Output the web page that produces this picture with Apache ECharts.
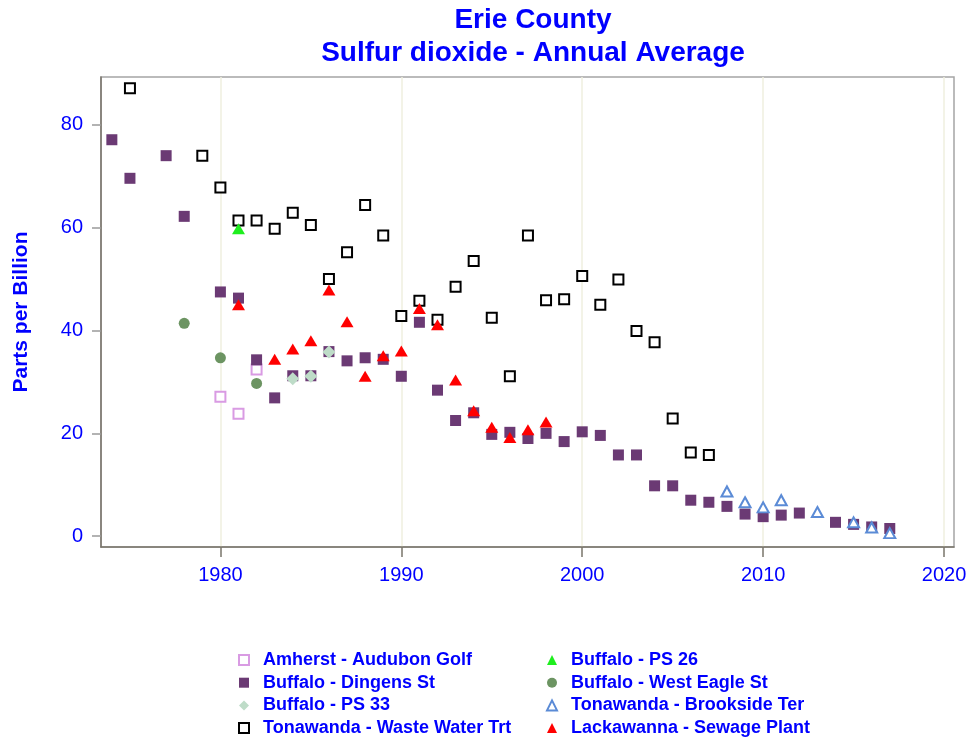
<!DOCTYPE html>
<html>
<head>
<meta charset="utf-8">
<script src="https://cdn.jsdelivr.net/npm/echarts@6/dist/echarts.min.js"></script>
<style>
    html,body{margin:0;padding:0;background:#fff;}
    #main{width:973px;height:744px;}
</style>
</head>
<body>
<div id="main"></div>
<script>
//数据
var amherstYears = [1980, 1981, 1982];
var amherstValues = [27.1, 23.8, 32.4];

var dingensYears = [1974, 1975, 1977, 1978, 1980, 1981, 1982, 1983, 1984, 1985, 1986, 1987, 1988, 1989,
    1990, 1991, 1992, 1993, 1994, 1995, 1996, 1997, 1998, 1999, 2000, 2001, 2002, 2003, 2004, 2005,
    2006, 2007, 2008, 2009, 2010, 2011, 2012, 2014, 2015, 2016, 2017];
var dingensValues = [77.1, 69.6, 74.0, 62.2, 47.5, 46.3, 34.3, 26.9, 31.2, 31.2, 35.9, 34.1, 34.7, 34.4,
    31.1, 41.6, 28.4, 22.5, 24.0, 19.8, 20.2, 19.0, 20.0, 18.4, 20.3, 19.6, 15.8, 15.8, 9.8, 9.8,
    7.0, 6.6, 5.8, 4.3, 3.8, 4.1, 4.5, 2.7, 2.3, 1.8, 1.5];

var ps33Years = [1984, 1985, 1986];
var ps33Values = [30.6, 31.1, 35.8];

var wasteYears = [1975, 1979, 1980, 1981, 1982, 1983, 1984, 1985, 1986, 1987, 1988, 1989,
    1990, 1991, 1992, 1993, 1994, 1995, 1996, 1997, 1998, 1999, 2000, 2001, 2002, 2003, 2004, 2005, 2006, 2007];
var wasteValues = [87.1, 74.0, 67.8, 61.4, 61.4, 59.8, 62.9, 60.5, 50.0, 55.2, 64.4, 58.5,
    42.8, 45.8, 42.1, 48.5, 53.5, 42.5, 31.1, 58.5, 45.9, 46.1, 50.6, 45.0, 49.9, 39.9, 37.7, 22.9, 16.3, 15.8];

var ps26Years = [1981];
var ps26Values = [59.8];

var westEagleYears = [1978, 1980, 1982];
var westEagleValues = [41.4, 34.7, 29.7];

var brooksideYears = [2008, 2009, 2010, 2011, 2013, 2015, 2016, 2017];
var brooksideValues = [8.7, 6.6, 5.6, 7.0, 4.7, 2.7, 1.7, 0.6];

var lackYears = [1981, 1983, 1984, 1985, 1986, 1987, 1988, 1989, 1990, 1991, 1992, 1993, 1994, 1995, 1996, 1997, 1998];
var lackValues = [45.0, 34.4, 36.4, 38.0, 47.9, 41.7, 31.1, 35.1, 36.0, 44.3, 41.1, 30.4, 24.4, 21.2, 19.2, 20.7, 22.2];

var xTicks = [1980, 1990, 2000, 2010, 2020];
var yTicks = [0, 20, 40, 60, 80];

var blue = '#0000FF';
var fontName = 'Liberation Sans, Arial, sans-serif';

//拼成[x,y]
function toPairs(xs, ys) {
    var arr = [];
    for (var i = 0; i < xs.length; i++) {
        arr.push([xs[i], ys[i]]);
    }
    return arr;
}

function makeSeries(name, xs, ys, symbol, size, color) {
    return {
        name: name,
        type: 'scatter',
        data: toPairs(xs, ys),
        symbol: symbol,
        symbolSize: size,
        itemStyle: {color: color, opacity: 1},
        emphasis: {disabled: true}
    };
}

var myChart = echarts.init(document.getElementById('main'));

var series = [
    makeSeries('Amherst - Audubon Golf', amherstYears, amherstValues, 'emptyRect', 10, '#D99BE3'),
    makeSeries('Buffalo - Dingens St', dingensYears, dingensValues, 'rect', 11, '#6B3A74'),
    makeSeries('Buffalo - PS 33', ps33Years, ps33Values, 'diamond', 13, '#BEDCC8'),
    makeSeries('Tonawanda - Waste Water Trt', wasteYears, wasteValues, 'emptyRect', 10, '#000000'),
    makeSeries('Buffalo - PS 26', ps26Years, ps26Values, 'triangle', [13, 11], '#1EEE1E'),
    makeSeries('Buffalo - West Eagle St', westEagleYears, westEagleValues, 'circle', 11, '#6C9462'),
    makeSeries('Tonawanda - Brookside Ter', brooksideYears, brooksideValues, 'emptyTriangle', [11, 10], '#5B8BD6'),
    makeSeries('Lackawanna - Sewage Plant', lackYears, lackValues, 'triangle', [13, 11], '#FF0000')
];

var legendText = {color: blue, fontWeight: 'bold', fontSize: 18, fontFamily: fontName, lineHeight: 18, padding: [0, 0, 0, 9]};

var option = {
    animation: false,
    backgroundColor: '#fff',
    title: {
        text: 'Erie County\nSulfur dioxide - Annual Average',
        left: 528,
        top: -1,
        textAlign: 'center',
        textStyle: {color: blue, fontWeight: 'bold', fontSize: 28, fontFamily: fontName, lineHeight: 33}
    },
    legend: [
        {
            data: ['Amherst - Audubon Golf', 'Buffalo - Dingens St', 'Buffalo - PS 33', 'Tonawanda - Waste Water Trt'],
            orient: 'vertical',
            left: 238,
            top: 651,
            itemWidth: 10,
            itemHeight: 10,
            itemGap: 4.7,
            padding: 0,
            selectedMode: false,
            textStyle: legendText
        },
        {
            data: ['Buffalo - PS 26', 'Buffalo - West Eagle St', 'Tonawanda - Brookside Ter', 'Lackawanna - Sewage Plant'],
            orient: 'vertical',
            left: 546,
            top: 651,
            itemWidth: 10,
            itemHeight: 10,
            itemGap: 4.7,
            padding: 0,
            selectedMode: false,
            textStyle: legendText
        }
    ],
    grid: {
        left: 101,
        right: 19,
        top: 77,
        bottom: 197,
        show: true,
        borderColor: '#A5A5A5',
        borderWidth: 1.5,
        containLabel: false
    },
    xAxis: {
        type: 'value',
        min: 1973.4,
        max: 2020.55,
        axisLine: {show: true, onZero: false, lineStyle: {color: '#7A756B', width: 1.5}},
        axisTick: {show: true, length: 10, customValues: xTicks, lineStyle: {color: '#7A756B', width: 1.5}},
        axisLabel: {
            customValues: xTicks,
            margin: 18,
            color: blue,
            fontSize: 20,
            fontFamily: fontName,
            formatter: function (v) {
                return String(v);
            }
        },
        splitLine: {show: true, lineStyle: {color: '#EFEFDF', width: 1.5}}
    },
    yAxis: {
        type: 'value',
        min: -2.1,
        max: 89.3,
        name: 'Parts per Billion',
        nameLocation: 'middle',
        nameGap: 69,
        nameTextStyle: {color: blue, fontWeight: 'bold', fontSize: 21, fontFamily: fontName},
        axisLine: {show: true, onZero: false, lineStyle: {color: '#7A756B', width: 1.5}},
        axisTick: {show: true, length: 9, customValues: yTicks, lineStyle: {color: '#9A9A9A', width: 1.5}},
        axisLabel: {customValues: yTicks, margin: 18, color: blue, fontSize: 20, fontFamily: fontName},
        splitLine: {show: false}
    },
    series: series
};

myChart.setOption(option);
</script>
</body>
</html>
